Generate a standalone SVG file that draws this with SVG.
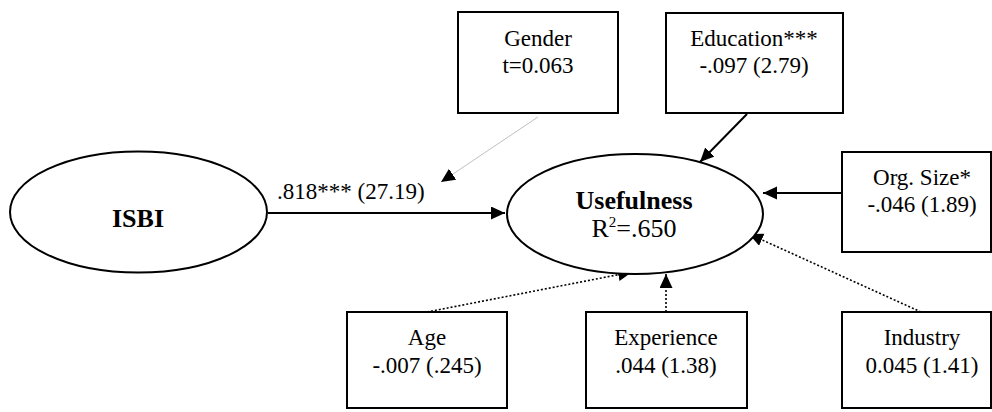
<svg xmlns="http://www.w3.org/2000/svg" width="992" height="412" viewBox="0 0 992 412">
<style>
  .box { fill: #fff; stroke: #000; stroke-width: 2; }
  .ell { fill: #fff; stroke: #000; stroke-width: 2; }
  .t { font-family: "Liberation Serif", "Times New Roman", serif; font-size: 23px; fill: #000; text-anchor: middle; }
  .tb { font-family: "Liberation Serif", "Times New Roman", serif; font-size: 26px; font-weight: bold; fill: #000; text-anchor: middle; }
  .tl { font-family: "Liberation Serif", "Times New Roman", serif; font-size: 26px; fill: #000; text-anchor: middle; }
  .solid { stroke: #000; stroke-width: 2; fill: none; }
  .dot { stroke: #000; stroke-width: 1.6; stroke-dasharray: 2 2; fill: none; }
  .thin { stroke: #b0b0b0; stroke-width: 0.8; fill: none; }
</style>
<defs>
  <marker id="arr" markerUnits="userSpaceOnUse" markerWidth="15" markerHeight="14" refX="14" refY="6.5" orient="auto">
    <path d="M0,0 L14,6.5 L0,13 z" fill="#000"/>
  </marker>
</defs>
<rect width="992" height="412" fill="#fff"/>

<g id="connectors">
  <line class="solid" x1="268" y1="213" x2="505" y2="213" marker-end="url(#arr)"/>
  <line class="thin" x1="538" y1="117" x2="441" y2="182" marker-end="url(#arr)"/>
  <line class="solid" x1="747" y1="114" x2="700" y2="162" marker-end="url(#arr)"/>
  <line class="solid" x1="842" y1="193" x2="763" y2="193" marker-end="url(#arr)"/>
  <line class="dot" x1="427" y1="312" x2="632" y2="272" marker-end="url(#arr)"/>
  <line class="dot" x1="666" y1="312" x2="666" y2="274" marker-end="url(#arr)"/>
  <line class="dot" x1="921" y1="312" x2="749" y2="234" marker-end="url(#arr)"/>
  <text class="t" x="277" y="199" style="text-anchor:start">.818*** (27.19)</text>
</g>

<g id="isbi">
  <ellipse class="ell" cx="138.5" cy="212" rx="128.5" ry="60.5"/>
  <text class="tb" x="138" y="227">ISBI</text>
</g>

<g id="usefulness">
  <ellipse class="ell" cx="635" cy="214" rx="128" ry="60"/>
  <text class="tb" x="634" y="209">Usefulness</text>
  <text class="tl" x="634" y="237">R<tspan dy="-10" font-size="15">2</tspan><tspan dy="10">=.650</tspan></text>
</g>

<g id="gender">
  <rect class="box" x="458" y="12" width="160" height="101"/>
  <text class="t" x="538" y="46">Gender</text>
  <text class="t" x="538" y="73">t=0.063</text>
</g>

<g id="education">
  <rect class="box" x="666" y="13" width="177" height="100"/>
  <text class="t" x="754" y="46">Education***</text>
  <text class="t" x="754" y="73">-.097 (2.79)</text>
</g>

<g id="orgsize">
  <rect class="box" x="842" y="152" width="149" height="100"/>
  <text class="t" x="922" y="185">Org. Size*</text>
  <text class="t" x="922" y="212">-.046 (1.89)</text>
</g>

<g id="age">
  <rect class="box" x="347" y="312" width="160" height="96"/>
  <text class="t" x="427" y="345">Age</text>
  <text class="t" x="427" y="373">-.007 (.245)</text>
</g>

<g id="experience">
  <rect class="box" x="586" y="312" width="161" height="96"/>
  <text class="t" x="666" y="345">Experience</text>
  <text class="t" x="666" y="373">.044 (1.38)</text>
</g>

<g id="industry">
  <rect class="box" x="842" y="312" width="149" height="96"/>
  <text class="t" x="922" y="345">Industry</text>
  <text class="t" x="922" y="373">0.045 (1.41)</text>
</g>
</svg>
